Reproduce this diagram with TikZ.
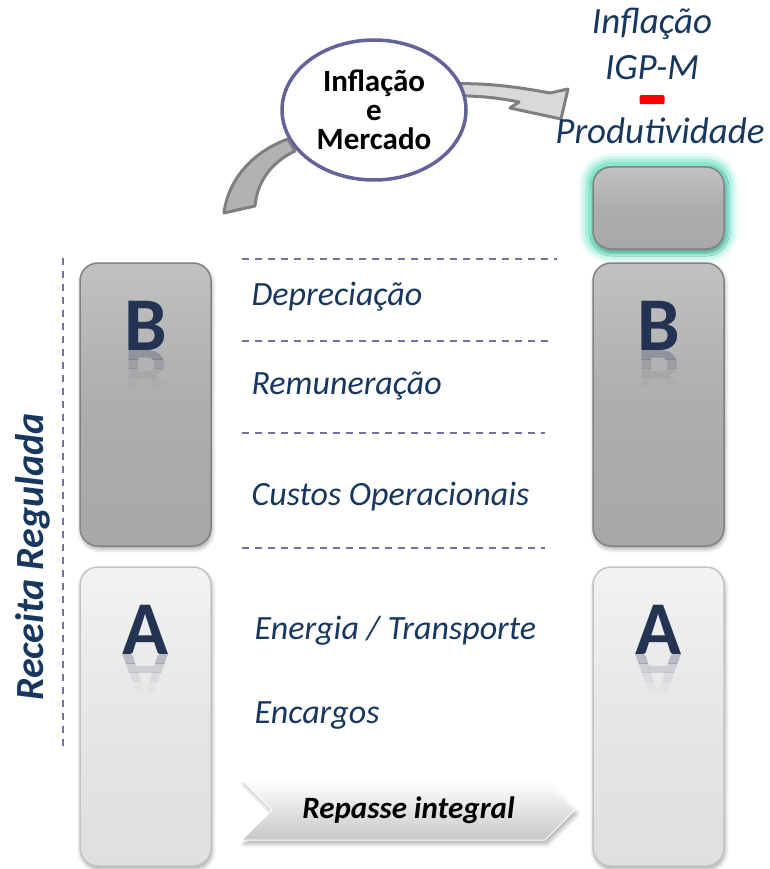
\documentclass[tikz,border=0pt]{standalone}
\usepackage{fontspec}
\setmainfont{Carlito}
\usetikzlibrary{shapes.geometric,shapes.symbols,shadows.blur,positioning}
\definecolor{txtblue}{HTML}{17375E}
\definecolor{letblue}{HTML}{243352}
\definecolor{sepcol}{HTML}{7470A0}
\definecolor{boxB}{HTML}{ADADAD}
\definecolor{boxA}{HTML}{E6E6E6}
\definecolor{glowcol}{HTML}{80E6CC}
\definecolor{ringcol}{HTML}{63639A}
\definecolor{bandcol}{HTML}{7F7F7F}

\begin{document}
\begin{tikzpicture}[x=1pt,y=-1pt,
    cost/.style={anchor=west,text=txtblue,font=\fontsize{34}{40}\selectfont\itshape},
    idx/.style={text=txtblue,font=\fontsize{37}{44}\selectfont\itshape},
    block/.style={rounded corners=18pt,line width=1.5pt,minimum width=131,inner sep=0pt,
      blur shadow={shadow xshift=1pt,shadow yshift=-3pt,shadow blur radius=4pt,shadow opacity=35}},
    blockB/.style={block,draw=boxB!75!black,top color=boxB!75!white,bottom color=boxB!97!black,middle color=boxB},
    blockA/.style={block,draw=boxA!85!black,top color=boxA!50!white,bottom color=boxA!97!black,middle color=boxA},
    letter/.style={anchor=base,text=letblue,font=\fontsize{76}{80}\selectfont\bfseries},
    sep/.style={draw=sepcol,line width=1.6pt,dash pattern=on 7pt off 6pt},
    band/.style={draw=bandcol,line width=3pt,line join=round}]

    \useasboundingbox (0,0) rectangle (770,869);

    % glow round the new block
    \coordinate (btc) at (658.5,208);
    \foreach \w/\o in {28/0.15,22/0.25,16/0.45,10/0.75}
      \draw[glowcol,line width=\w pt,opacity=\o,rounded corners=18pt]
        ([shift={(-65.5pt,-41pt)}]btc) rectangle ([shift={(65.5pt,41pt)}]btc);

    % blocks, today and after the review
    \node[blockB,minimum height=283] (b1) at (145.5,404.5) {};
    \node[blockA,minimum height=299] (a1) at (145.5,716.5) {};
    \node[blockB,minimum height=82] (bt) at (btc) {};
    \node[blockB,minimum height=283] (b2) at (658.5,404.5) {};
    \node[blockA,minimum height=299] (a2) at (658.5,716.5) {};

    % letters with their reflection
    \foreach \n/\l in {b1/B,b2/B,a1/A,a2/A}
    {
      \node[letter] (l\n) at ([yshift=-88pt]\n.north) {\l};
      \foreach \k/\o in {0/0.25,1/0.15,2/0.08,3/0.03}
      {
        \begin{scope}
          \clip ([xshift=-40pt,yshift=-88pt-9pt*\k]\n.north) rectangle ([xshift=40pt,yshift=-97pt-9pt*\k]\n.north);
          \node[letter,yscale=-1,opacity=\o] at ([yshift=-88pt]\n.north) {\l};
        \end{scope}
      }
    }

    % separators and cost items
    \draw[sep] (63,258) -- (63,752);
    \foreach \y/\x in {259/557,341/553,433/545,548/545}
      \draw[sep] (242,\y) -- (\x,\y);

    \node[cost] (dep) at (248,297) {Depreciação};
    \node[cost] (rem) at (248,386) {Remuneração};
    \node[cost] (opx) at (248,497) {Custos Operacionais};
    \node[cost] (ene) at (251,631) {Energia / Transporte};
    \node[cost] (enc) at (251,715) {Encargos};

    \node[rotate=90,text=txtblue,font=\fontsize{40}{46}\selectfont\bfseries\itshape] (rr) at (33,557) {Receita Regulada};

    % pass-through
    \node[signal,signal to=east,signal from=west,signal pointer angle=90,minimum width=333,minimum height=60,
      inner sep=0pt,draw=white,line width=1pt,top color=white,bottom color=black!22,
      blur shadow={shadow xshift=2pt,shadow yshift=-4pt,shadow blur radius=4pt,shadow opacity=30},
      font=\fontsize{31}{36}\selectfont\bfseries\itshape] (rep) at (408.5,810) {Repasse integral};

    % inflation and market arrow
    \draw[band,fill=black!30] (288,139) .. controls (252,152) and (228,180) .. (224,213)
      -- (255,206) .. controls (257,183) and (270,163) .. (295,151) -- cycle;
    \draw[band,fill=black!15] (440,84) .. controls (490,82) and (522,88) .. (550,93) -- (568,89)
      -- (561,119) -- (510,108) -- (519,102) .. controls (495,97) and (470,95) .. (440,96) -- cycle;
    \node[ellipse,draw=ringcol,line width=3.5pt,fill=white,minimum width=184,minimum height=140,
      align=center,font=\fontsize{31}{29}\selectfont\bfseries] (mkt) at (374,110) {Inflação\\e\\Mercado};

    % index of the review
    \node[idx] (inf) at (652,24) {Inflação};
    \node[idx] (igp) at (652,68) {IGP-M};
    \node[fill=red,rounded corners=2pt,minimum width=25,minimum height=9,inner sep=0pt,below=15pt of igp.base] (minus) {};
    \node[idx] (prod) at (660,131) {Produtividade};
  \end{tikzpicture}
\end{document}
